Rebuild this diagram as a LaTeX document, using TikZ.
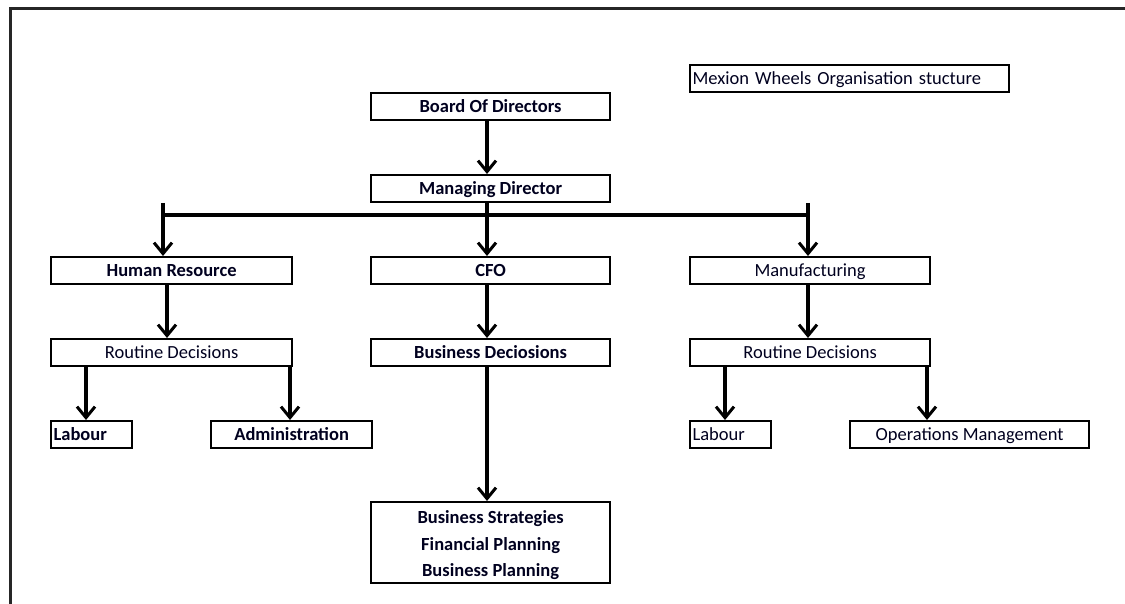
\documentclass[tikz,border=0pt]{standalone}
\usepackage{fontspec}
\setmainfont{Carlito}
\usetikzlibrary{arrows.meta}
\begin{document}
\begin{tikzpicture}[x=1pt,y=-1pt,
  box/.style={draw=black, line width=2.2pt, fill=white, inner sep=0pt,
    minimum height=27pt, text height=12pt, text depth=1pt, anchor=north west,
    font=\fontsize{18.5}{21}\selectfont, text=black!88!blue},
  bbox/.style={box, font=\fontsize{18.5}{21}\selectfont\bfseries},
  arr/.style={line width=3.2pt, -{Straight Barb[length=11pt,width=18pt,line width=3pt]}},
  bus/.style={line width=3.2pt}]
\useasboundingbox (0,0) rectangle (1125,604);
% outer frame
\draw[line width=3pt, black!85] (10,604) -- (10,9) -- (1125,9);

% title
\node[box, minimum width=319pt, text width=314pt, align=left] (title) at (689,64) {Mexion Wheels Organisation stucture};

% top of the chart
\node[bbox, minimum width=239pt] (board) at (370,92) {Board Of Directors};
\node[bbox, minimum width=239pt] (md) at (370,174) {Managing Director};

% departments
\node[bbox, minimum width=241pt] (hr) at (50,256) {Human Resource};
\node[bbox, minimum width=239pt] (cfo) at (370,256) {CFO};
\node[box, minimum width=240pt] (mfg) at (689,256) {Manufacturing};

% decision level
\node[box, minimum width=241pt] (rdl) at (50,338) {Routine Decisions};
\node[bbox, minimum width=239pt] (bd) at (370,338) {Business Deciosions};
\node[box, minimum width=240pt] (rdr) at (689,338) {Routine Decisions};

% bottom level
\node[bbox, minimum width=81pt, text width=76pt, align=left] (labl) at (50,420) {Labour};
\node[bbox, minimum width=161pt] (adm) at (210,420) {Administration};
\node[box, minimum width=81pt, text width=76pt, align=left] (labr) at (689,420) {Labour};
\node[box, minimum width=239pt] (ops) at (849,420) {Operations Management};
\node[bbox, minimum width=239pt, minimum height=81pt, text height=, text depth=, align=center,
  font=\fontsize{18.5}{26.5}\selectfont\bfseries] (plan) at (370,501)
  {\rule{0pt}{18.5pt}Business Strategies\\Financial Planning\\Business Planning};

% connector points
\coordinate (busL) at (163,203);
\coordinate (busR) at (808,203);
\coordinate (busLy) at (163,215);
\coordinate (busRy) at (808,215);

\draw[arr] (board.south -| 487,0) -- (md.north -| 487,0);
\draw[bus] (busLy) -- (busRy);
\draw[arr] (busL) -- (hr.north -| busL);
\draw[arr] (busR) -- (mfg.north -| busR);
\draw[arr] (md.south -| 487,0) -- (cfo.north -| 487,0);

\draw[arr] (hr.south -| 167,0) -- (rdl.north -| 167,0);
\draw[arr] (cfo.south -| 487,0) -- (bd.north -| 487,0);
\draw[arr] (mfg.south -| 808,0) -- (rdr.north -| 808,0);

\draw[arr] (rdl.south -| 86,0) -- (labl.north -| 86,0);
\draw[arr] (rdl.south -| 290,0) -- (adm.north -| 290,0);
\draw[arr] (bd.south -| 487,0) -- (plan.north -| 487,0);
\draw[arr] (rdr.south -| 725,0) -- (labr.north -| 725,0);
\draw[arr] (rdr.south -| 927,0) -- (ops.north -| 927,0);
\end{tikzpicture}
\end{document}
